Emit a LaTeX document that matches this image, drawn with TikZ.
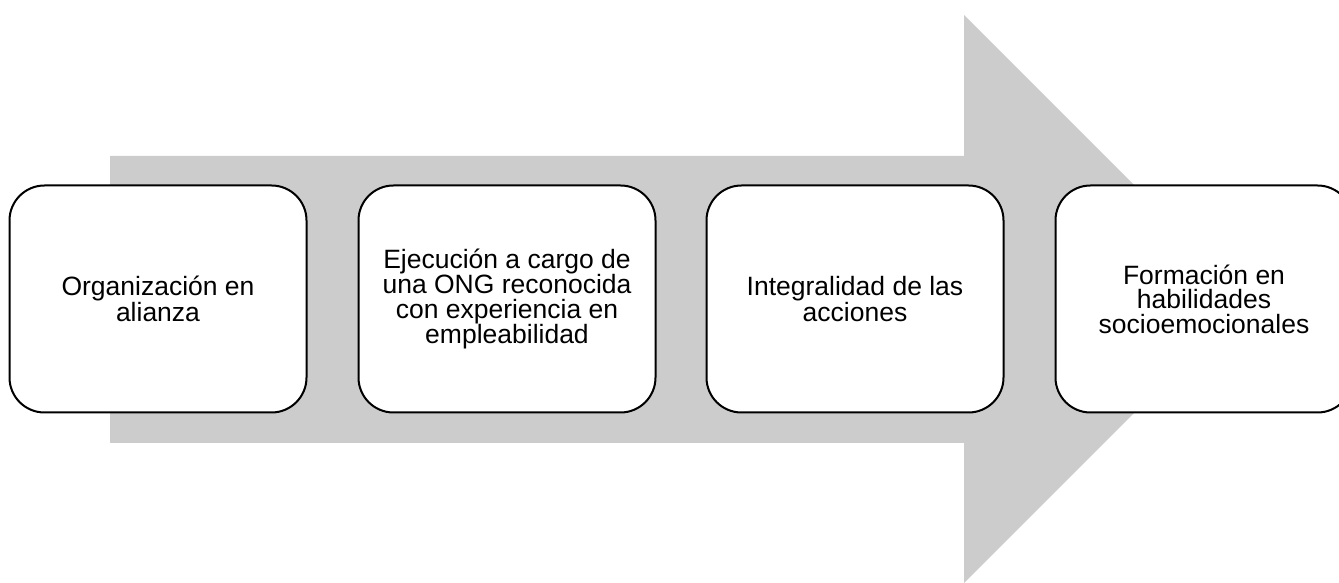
\documentclass[tikz,border=0pt]{standalone}
\usepackage{fontspec}
\setmainfont{Liberation Sans}
\usepackage{tikz}
\definecolor{flecha}{RGB}{204,204,204}

\begin{document}
\begin{tikzpicture}[x = 1pt, y = 1pt]
	\tikzstyle{every node} = [draw = black, line width = 2pt, fill = white, rounded corners = 35pt, minimum width = 297pt, minimum height = 227pt, align = center, font = \fontsize{26.5}{24.5}\selectfont]
\useasboundingbox (0, 0) rectangle (1339, 583);
\clip (0, 0) rectangle (1339, 583);
	\fill[flecha] (110, 140) -- (964, 140) -- (964, 0) -- (1248, 284) -- (964, 568) -- (964, 427) -- (110, 427) -- cycle;
\node (1) at (158, 284) {Organización en\\alianza};
\node (2) at (507, 284) {Ejecución a cargo de\\una ONG reconocida\\con experiencia en\\empleabilidad};
\node (3) at (855, 284) {Integralidad de las\\acciones};
\node (4) at (1204, 284) {Formación en\\habilidades\\socioemocionales};
	\end{tikzpicture}
\end{document}
